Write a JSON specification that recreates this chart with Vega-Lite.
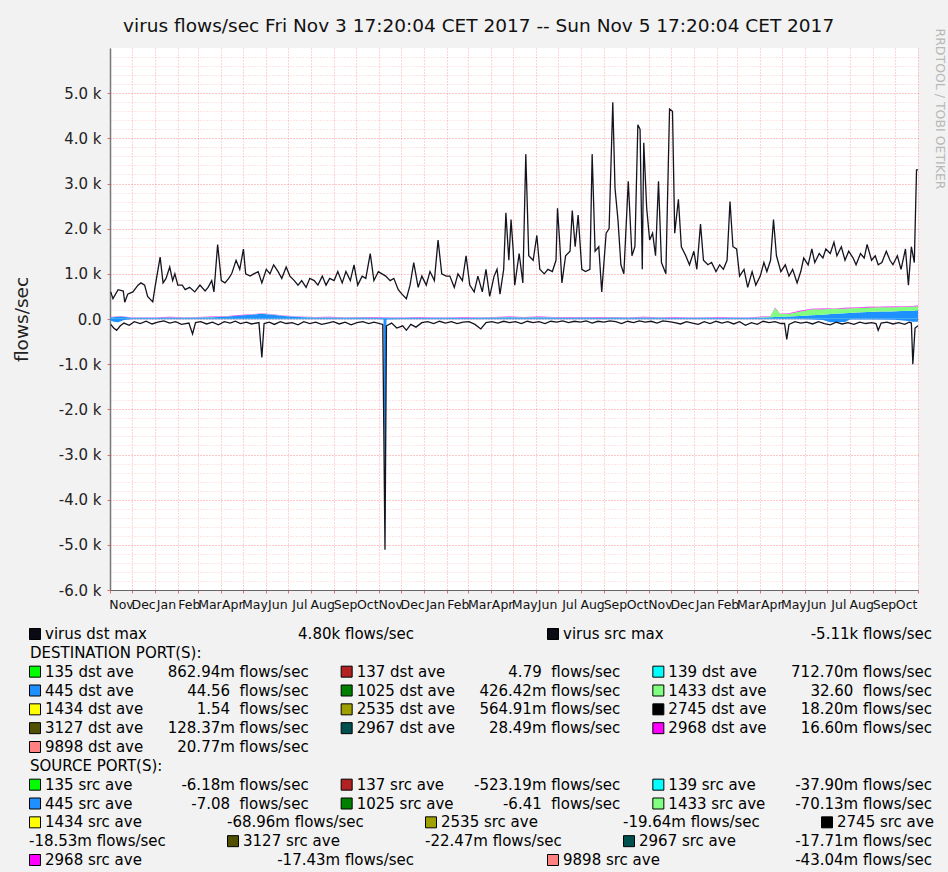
{
  "$schema": "https://vega.github.io/schema/vega-lite/v6.json",
  "background": "#f2f2f2",
  "padding": {"left": 12, "top": 17, "right": 3.5, "bottom": 4},
  "bounds": "flush",
  "spacing": 44,
  "title": {"text": "virus flows/sec Fri Nov 3 17:20:04 CET 2017 -- Sun Nov 5 17:20:04 CET 2017", "fontSize": 18.5, "fontWeight": "normal", "font": "DejaVu Sans", "color": "#111111", "anchor": "middle", "offset": -7.5},
  "config": {"font": "DejaVu Sans", "view": {"stroke": null}},
  "datasets": {
    "dstmax": [
      {"t":"2014-11-02","v":600},{"t":"2014-11-05","v":450},{"t":"2014-11-12","v":650},{"t":"2014-11-19","v":620},{"t":"2014-11-21","v":370},{"t":"2014-11-25","v":550},
      {"t":"2014-12-02","v":600},{"t":"2014-12-09","v":750},{"t":"2014-12-13","v":800},{"t":"2014-12-18","v":750},{"t":"2014-12-22","v":500},{"t":"2014-12-29","v":380},
      {"t":"2015-01-01","v":700},{"t":"2015-01-08","v":1370},{"t":"2015-01-12","v":800},{"t":"2015-01-16","v":900},{"t":"2015-01-21","v":1150},{"t":"2015-01-25","v":850},{"t":"2015-01-28","v":1000},
      {"t":"2015-02-01","v":750},{"t":"2015-02-07","v":750},{"t":"2015-02-11","v":650},{"t":"2015-02-17","v":700},{"t":"2015-02-24","v":600},
      {"t":"2015-03-03","v":750},{"t":"2015-03-10","v":620},{"t":"2015-03-14","v":700},{"t":"2015-03-19","v":850},{"t":"2015-03-22","v":600},{"t":"2015-03-27","v":1650},
      {"t":"2015-04-01","v":850},{"t":"2015-04-06","v":800},{"t":"2015-04-11","v":900},{"t":"2015-04-15","v":1000},{"t":"2015-04-21","v":1300},{"t":"2015-04-26","v":1100},
      {"t":"2015-05-01","v":1550},{"t":"2015-05-04","v":1000},{"t":"2015-05-10","v":950},{"t":"2015-05-15","v":1000},{"t":"2015-05-21","v":1050},{"t":"2015-05-26","v":800},
      {"t":"2015-06-01","v":1100},{"t":"2015-06-06","v":1000},{"t":"2015-06-11","v":1200},{"t":"2015-06-17","v":1050},{"t":"2015-06-22","v":900},{"t":"2015-06-28","v":1150},
      {"t":"2015-07-03","v":950},{"t":"2015-07-09","v":850},{"t":"2015-07-14","v":750},{"t":"2015-07-19","v":850},{"t":"2015-07-25","v":700},{"t":"2015-07-30","v":900},
      {"t":"2015-08-05","v":850},{"t":"2015-08-10","v":750},{"t":"2015-08-16","v":950},{"t":"2015-08-21","v":750},{"t":"2015-08-26","v":900},
      {"t":"2015-09-01","v":850},{"t":"2015-09-06","v":1050},{"t":"2015-09-12","v":800},{"t":"2015-09-17","v":1050},{"t":"2015-09-23","v":850},{"t":"2015-09-28","v":1200},
      {"t":"2015-10-03","v":750},{"t":"2015-10-09","v":950},{"t":"2015-10-14","v":900},{"t":"2015-10-20","v":1450},{"t":"2015-10-25","v":850},{"t":"2015-10-31","v":1050},
      {"t":"2015-11-05","v":1000},{"t":"2015-11-10","v":950},{"t":"2015-11-16","v":850},{"t":"2015-11-21","v":900},{"t":"2015-11-27","v":650},
      {"t":"2015-12-02","v":550},{"t":"2015-12-08","v":450},{"t":"2015-12-13","v":750},{"t":"2015-12-18","v":1250},{"t":"2015-12-24","v":700},{"t":"2015-12-29","v":950},
      {"t":"2016-01-04","v":750},{"t":"2016-01-09","v":1050},{"t":"2016-01-15","v":850},{"t":"2016-01-20","v":1750},{"t":"2016-01-25","v":1000},{"t":"2016-01-31","v":950},
      {"t":"2016-02-05","v":950},{"t":"2016-02-11","v":700},{"t":"2016-02-16","v":1000},{"t":"2016-02-22","v":850},{"t":"2016-02-27","v":1400},
      {"t":"2016-03-03","v":750},{"t":"2016-03-09","v":600},{"t":"2016-03-14","v":950},{"t":"2016-03-20","v":600},{"t":"2016-03-25","v":1100},{"t":"2016-03-30","v":500},
      {"t":"2016-04-05","v":950},{"t":"2016-04-09","v":1100},{"t":"2016-04-13","v":550},{"t":"2016-04-18","v":1100},{"t":"2016-04-21","v":2350},{"t":"2016-04-25","v":1300},{"t":"2016-04-28","v":2200},
      {"t":"2016-05-01","v":1500},{"t":"2016-05-03","v":750},{"t":"2016-05-09","v":1450},{"t":"2016-05-14","v":800},{"t":"2016-05-18","v":3650},{"t":"2016-05-22","v":1400},{"t":"2016-05-28","v":1300},
      {"t":"2016-06-02","v":1850},{"t":"2016-06-06","v":1100},{"t":"2016-06-12","v":1000},{"t":"2016-06-17","v":1100},{"t":"2016-06-23","v":1050},{"t":"2016-06-28","v":1300},{"t":"2016-06-30","v":2450},
      {"t":"2016-07-03","v":1700},{"t":"2016-07-06","v":800},{"t":"2016-07-11","v":1400},{"t":"2016-07-17","v":1500},{"t":"2016-07-20","v":2400},{"t":"2016-07-24","v":1600},{"t":"2016-07-28","v":2300},
      {"t":"2016-08-02","v":1100},{"t":"2016-08-07","v":1050},{"t":"2016-08-13","v":1100},{"t":"2016-08-16","v":3650},{"t":"2016-08-20","v":1500},{"t":"2016-08-25","v":1600},{"t":"2016-08-29","v":600},
      {"t":"2016-09-04","v":1900},{"t":"2016-09-08","v":2000},{"t":"2016-09-13","v":4800},{"t":"2016-09-16","v":2900},{"t":"2016-09-20","v":2200},{"t":"2016-09-24","v":1200},{"t":"2016-09-28","v":1000},
      {"t":"2016-10-04","v":3050},{"t":"2016-10-09","v":1400},{"t":"2016-10-13","v":1600},{"t":"2016-10-17","v":4300},{"t":"2016-10-20","v":4200},{"t":"2016-10-23","v":1100},{"t":"2016-10-25","v":3900},{"t":"2016-10-29","v":2450},
      {"t":"2016-11-02","v":1750},{"t":"2016-11-06","v":1900},{"t":"2016-11-10","v":1400},{"t":"2016-11-14","v":3050},{"t":"2016-11-18","v":1250},{"t":"2016-11-24","v":1000},{"t":"2016-11-29","v":4650},
      {"t":"2016-12-03","v":4600},{"t":"2016-12-06","v":1900},{"t":"2016-12-11","v":2650},{"t":"2016-12-15","v":1600},{"t":"2016-12-21","v":1400},{"t":"2016-12-26","v":1200},
      {"t":"2017-01-01","v":1500},{"t":"2017-01-05","v":1100},{"t":"2017-01-10","v":2100},{"t":"2017-01-14","v":1300},{"t":"2017-01-20","v":1200},{"t":"2017-01-25","v":1250},{"t":"2017-01-31","v":1050},
      {"t":"2017-02-05","v":1200},{"t":"2017-02-10","v":1100},{"t":"2017-02-15","v":1300},{"t":"2017-02-19","v":2600},{"t":"2017-02-23","v":1600},{"t":"2017-02-28","v":1550},
      {"t":"2017-03-04","v":950},{"t":"2017-03-10","v":1100},{"t":"2017-03-15","v":700},{"t":"2017-03-21","v":1050},{"t":"2017-03-26","v":750},
      {"t":"2017-04-01","v":950},{"t":"2017-04-06","v":1250},{"t":"2017-04-10","v":1050},{"t":"2017-04-15","v":1300},{"t":"2017-04-19","v":2200},{"t":"2017-04-23","v":1400},{"t":"2017-04-29","v":1050},
      {"t":"2017-05-05","v":1200},{"t":"2017-05-10","v":950},{"t":"2017-05-15","v":1100},{"t":"2017-05-21","v":800},{"t":"2017-05-26","v":1050},{"t":"2017-05-30","v":1350},
      {"t":"2017-06-05","v":1200},{"t":"2017-06-10","v":1550},{"t":"2017-06-14","v":1250},{"t":"2017-06-20","v":1450},{"t":"2017-06-25","v":1350},{"t":"2017-06-29","v":1550},
      {"t":"2017-07-05","v":1450},{"t":"2017-07-10","v":1700},{"t":"2017-07-14","v":1400},{"t":"2017-07-20","v":1600},{"t":"2017-07-25","v":1300},{"t":"2017-07-30","v":1500},
      {"t":"2017-08-05","v":1350},{"t":"2017-08-09","v":1200},{"t":"2017-08-15","v":1450},{"t":"2017-08-20","v":1350},{"t":"2017-08-24","v":1650},{"t":"2017-08-30","v":1300},
      {"t":"2017-09-04","v":1400},{"t":"2017-09-08","v":1200},{"t":"2017-09-13","v":1250},{"t":"2017-09-19","v":1500},{"t":"2017-09-24","v":1300},{"t":"2017-09-28","v":1200},
      {"t":"2017-10-04","v":1400},{"t":"2017-10-09","v":1100},{"t":"2017-10-15","v":1550},{"t":"2017-10-19","v":750},{"t":"2017-10-23","v":1600},{"t":"2017-10-27","v":1250},{"t":"2017-10-30","v":3300},{"t":"2017-11-01","v":3300}
    ],
    "srcmax": [
      {"t":"2014-11-02","v":-120},{"t":"2014-11-06","v":-200},{"t":"2014-11-10","v":-250},{"t":"2014-11-15","v":-150},{"t":"2014-11-20","v":-90},{"t":"2014-11-27","v":-140},
      {"t":"2014-12-04","v":-60},{"t":"2014-12-12","v":-100},{"t":"2014-12-20","v":-50},{"t":"2014-12-28","v":-110},
      {"t":"2015-01-05","v":-70},{"t":"2015-01-13","v":-40},{"t":"2015-01-21","v":-90},{"t":"2015-01-29","v":-60},
      {"t":"2015-02-06","v":-120},{"t":"2015-02-16","v":-90},{"t":"2015-02-21","v":-330},{"t":"2015-02-25","v":-80},
      {"t":"2015-03-04","v":-60},{"t":"2015-03-12","v":-110},{"t":"2015-03-20","v":-70},{"t":"2015-03-28","v":-130},
      {"t":"2015-04-05","v":-60},{"t":"2015-04-13","v":-90},{"t":"2015-04-20","v":-50},{"t":"2015-04-27","v":-100},
      {"t":"2015-05-05","v":-70},{"t":"2015-05-12","v":-110},{"t":"2015-05-22","v":-80},{"t":"2015-05-26","v":-850},{"t":"2015-05-29","v":-100},
      {"t":"2015-06-05","v":-70},{"t":"2015-06-12","v":-120},{"t":"2015-06-20","v":-60},{"t":"2015-06-28","v":-100},
      {"t":"2015-07-06","v":-80},{"t":"2015-07-14","v":-130},{"t":"2015-07-22","v":-60},{"t":"2015-07-30","v":-100},
      {"t":"2015-08-07","v":-70},{"t":"2015-08-15","v":-120},{"t":"2015-08-23","v":-90},{"t":"2015-08-31","v":-60},
      {"t":"2015-09-08","v":-110},{"t":"2015-09-16","v":-70},{"t":"2015-09-24","v":-130},
      {"t":"2015-10-02","v":-80},{"t":"2015-10-10","v":-60},{"t":"2015-10-18","v":-100},{"t":"2015-10-25","v":-70},
      {"t":"2015-11-06","v":-120},{"t":"2015-11-09","v":-5110},{"t":"2015-11-11","v":-150},{"t":"2015-11-18","v":-90},{"t":"2015-11-25","v":-200},
      {"t":"2015-12-03","v":-150},{"t":"2015-12-08","v":-250},{"t":"2015-12-14","v":-120},{"t":"2015-12-21","v":-180},{"t":"2015-12-29","v":-80},
      {"t":"2016-01-06","v":-60},{"t":"2016-01-14","v":-100},{"t":"2016-01-22","v":-50},{"t":"2016-01-30","v":-90},
      {"t":"2016-02-07","v":-60},{"t":"2016-02-15","v":-100},{"t":"2016-02-23","v":-70},
      {"t":"2016-03-02","v":-60},{"t":"2016-03-10","v":-120},{"t":"2016-03-18","v":-220},{"t":"2016-03-25","v":-80},
      {"t":"2016-04-02","v":-60},{"t":"2016-04-10","v":-90},{"t":"2016-04-18","v":-50},{"t":"2016-04-26","v":-80},
      {"t":"2016-05-04","v":-60},{"t":"2016-05-12","v":-100},{"t":"2016-05-20","v":-50},{"t":"2016-05-28","v":-80},
      {"t":"2016-06-05","v":-60},{"t":"2016-06-13","v":-100},{"t":"2016-06-21","v":-50},{"t":"2016-06-29","v":-70},
      {"t":"2016-07-07","v":-40},{"t":"2016-07-15","v":-80},{"t":"2016-07-23","v":-50},{"t":"2016-07-31","v":-70},
      {"t":"2016-08-08","v":-40},{"t":"2016-08-16","v":-90},{"t":"2016-08-24","v":-50},
      {"t":"2016-09-01","v":-70},{"t":"2016-09-09","v":-40},{"t":"2016-09-17","v":-60},{"t":"2016-09-25","v":-100},
      {"t":"2016-10-03","v":-50},{"t":"2016-10-11","v":-80},{"t":"2016-10-19","v":-40},{"t":"2016-10-27","v":-70},
      {"t":"2016-11-04","v":-50},{"t":"2016-11-12","v":-90},{"t":"2016-11-20","v":-40},{"t":"2016-11-28","v":-60},
      {"t":"2016-12-06","v":-80},{"t":"2016-12-14","v":-110},{"t":"2016-12-22","v":-60},{"t":"2016-12-30","v":-90},
      {"t":"2017-01-07","v":-120},{"t":"2017-01-15","v":-60},{"t":"2017-01-23","v":-100},{"t":"2017-01-31","v":-50},
      {"t":"2017-02-08","v":-90},{"t":"2017-02-16","v":-60},{"t":"2017-02-24","v":-110},
      {"t":"2017-03-04","v":-60},{"t":"2017-03-12","v":-140},{"t":"2017-03-20","v":-80},{"t":"2017-03-28","v":-120},
      {"t":"2017-04-05","v":-50},{"t":"2017-04-13","v":-80},{"t":"2017-04-21","v":-60},{"t":"2017-04-29","v":-100},
      {"t":"2017-05-04","v":-100},{"t":"2017-05-07","v":-450},{"t":"2017-05-10","v":-120},{"t":"2017-05-18","v":-60},{"t":"2017-05-26","v":-90},
      {"t":"2017-06-03","v":-70},{"t":"2017-06-11","v":-110},{"t":"2017-06-19","v":-60},{"t":"2017-06-27","v":-100},
      {"t":"2017-07-05","v":-130},{"t":"2017-07-13","v":-70},{"t":"2017-07-21","v":-110},{"t":"2017-07-29","v":-80},
      {"t":"2017-08-06","v":-120},{"t":"2017-08-14","v":-70},{"t":"2017-08-22","v":-100},{"t":"2017-08-30","v":-80},
      {"t":"2017-09-05","v":-100},{"t":"2017-09-08","v":-250},{"t":"2017-09-12","v":-90},{"t":"2017-09-20","v":-70},{"t":"2017-09-28","v":-110},
      {"t":"2017-10-06","v":-80},{"t":"2017-10-14","v":-120},{"t":"2017-10-20","v":-70},{"t":"2017-10-23","v":-90},{"t":"2017-10-25","v":-1000},{"t":"2017-10-28","v":-200},{"t":"2017-11-01","v":-150}
    ],
    "dstports": [
      {"t":"2014-11-01","0135":5,"0445":30,"1433":5,"2968":5},
      {"t":"2014-11-15","0135":5,"0445":50,"1433":5,"2968":5},
      {"t":"2014-12-01","0135":5,"0445":20,"1433":5,"2968":5},
      {"t":"2014-12-15","0135":5,"0445":25,"1433":5,"2968":5},
      {"t":"2015-01-01","0135":5,"0445":20,"1433":5,"2968":5},
      {"t":"2015-01-20","0135":5,"0445":30,"1433":5,"2968":8},
      {"t":"2015-02-10","0135":5,"0445":25,"1433":5,"2968":5},
      {"t":"2015-03-01","0135":5,"0445":30,"1433":5,"2968":5},
      {"t":"2015-03-20","0135":5,"0445":35,"1433":5,"2968":8},
      {"t":"2015-04-10","0135":5,"0445":50,"1433":5,"2968":5},
      {"t":"2015-04-25","0135":5,"0445":70,"1433":5,"2968":8},
      {"t":"2015-05-10","0135":5,"0445":90,"1433":5,"2968":5},
      {"t":"2015-05-25","0135":5,"0445":110,"1433":5,"2968":8},
      {"t":"2015-06-10","0135":5,"0445":90,"1433":5,"2968":5},
      {"t":"2015-06-25","0135":5,"0445":60,"1433":5,"2968":8},
      {"t":"2015-07-15","0135":5,"0445":40,"1433":5,"2968":5},
      {"t":"2015-08-05","0135":5,"0445":30,"1433":5,"2968":5},
      {"t":"2015-08-25","0135":5,"0445":30,"1433":5,"2968":8},
      {"t":"2015-09-15","0135":5,"0445":25,"1433":5,"2968":5},
      {"t":"2015-10-05","0135":5,"0445":30,"1433":5,"2968":5},
      {"t":"2015-10-25","0135":5,"0445":25,"1433":5,"2968":8},
      {"t":"2015-11-15","0135":5,"0445":20,"1433":5,"2968":5},
      {"t":"2015-12-05","0135":5,"0445":20,"1433":5,"2968":5},
      {"t":"2015-12-25","0135":5,"0445":25,"1433":5,"2968":8},
      {"t":"2016-01-15","0135":5,"0445":20,"1433":5,"2968":5},
      {"t":"2016-02-05","0135":5,"0445":25,"1433":5,"2968":5},
      {"t":"2016-02-25","0135":5,"0445":20,"1433":5,"2968":8},
      {"t":"2016-03-15","0135":5,"0445":25,"1433":5,"2968":5},
      {"t":"2016-04-05","0135":5,"0445":30,"1433":5,"2968":5},
      {"t":"2016-04-25","0135":5,"0445":35,"1433":5,"2968":8},
      {"t":"2016-05-15","0135":5,"0445":30,"1433":5,"2968":5},
      {"t":"2016-06-05","0135":5,"0445":35,"1433":5,"2968":8},
      {"t":"2016-06-25","0135":5,"0445":30,"1433":5,"2968":5},
      {"t":"2016-07-15","0135":5,"0445":25,"1433":5,"2968":8},
      {"t":"2016-08-05","0135":5,"0445":30,"1433":5,"2968":5},
      {"t":"2016-08-25","0135":5,"0445":25,"1433":5,"2968":8},
      {"t":"2016-09-15","0135":5,"0445":30,"1433":5,"2968":5},
      {"t":"2016-10-05","0135":5,"0445":25,"1433":5,"2968":5},
      {"t":"2016-10-25","0135":5,"0445":30,"1433":5,"2968":8},
      {"t":"2016-11-15","0135":5,"0445":25,"1433":5,"2968":5},
      {"t":"2016-12-05","0135":5,"0445":20,"1433":5,"2968":8},
      {"t":"2016-12-25","0135":5,"0445":20,"1433":5,"2968":5},
      {"t":"2017-01-15","0135":5,"0445":25,"1433":5,"2968":5},
      {"t":"2017-02-05","0135":5,"0445":20,"1433":5,"2968":8},
      {"t":"2017-02-25","0135":5,"0445":25,"1433":5,"2968":5},
      {"t":"2017-03-15","0135":5,"0445":20,"1433":5,"2968":5},
      {"t":"2017-04-05","0135":5,"0445":30,"1433":10,"2968":8},
      {"t":"2017-04-15","0135":5,"0445":35,"1433":20,"2968":5},
      {"t":"2017-04-21","0135":5,"0445":40,"1433":200,"2968":10},
      {"t":"2017-04-28","0135":5,"0445":45,"1433":60,"2968":8},
      {"t":"2017-05-10","0135":5,"0445":50,"1433":60,"2968":10},
      {"t":"2017-05-25","0135":5,"0445":60,"1433":100,"2968":15},
      {"t":"2017-06-10","0135":5,"0445":80,"1433":130,"2968":10},
      {"t":"2017-06-25","0135":5,"0445":90,"1433":120,"2968":15},
      {"t":"2017-07-10","0135":5,"0445":110,"1433":110,"2968":10},
      {"t":"2017-07-25","0135":5,"0445":120,"1433":110,"2968":15},
      {"t":"2017-08-10","0135":5,"0445":140,"1433":100,"2968":12},
      {"t":"2017-08-25","0135":5,"0445":150,"1433":100,"2968":15},
      {"t":"2017-09-10","0135":5,"0445":160,"1433":95,"2968":10},
      {"t":"2017-09-25","0135":5,"0445":160,"1433":95,"2968":15},
      {"t":"2017-10-10","0135":5,"0445":170,"1433":90,"2968":12},
      {"t":"2017-10-25","0135":5,"0445":180,"1433":90,"2968":15},
      {"t":"2017-11-01","0135":5,"0445":190,"1433":90,"2968":15}
    ],
    "srcports": [
      {"t":"2014-11-01","v":-30},{"t":"2014-11-06","v":-60},{"t":"2014-11-12","v":-70},{"t":"2014-11-20","v":-20},{"t":"2014-12-01","v":-5},
      {"t":"2015-02-01","v":-5},{"t":"2015-05-01","v":-5},{"t":"2015-08-01","v":-5},{"t":"2015-11-01","v":-5},
      {"t":"2015-11-07","v":-10},{"t":"2015-11-09","v":-4950},{"t":"2015-11-11","v":-10},
      {"t":"2015-12-01","v":-5},{"t":"2016-03-01","v":-5},{"t":"2016-06-01","v":-5},{"t":"2016-09-01","v":-5},{"t":"2016-12-01","v":-5},
      {"t":"2017-03-01","v":-5},{"t":"2017-06-01","v":-5},{"t":"2017-06-25","v":-20},{"t":"2017-07-05","v":-70},{"t":"2017-07-25","v":-65},
      {"t":"2017-08-01","v":-10},{"t":"2017-09-01","v":-10},{"t":"2017-10-01","v":-15},{"t":"2017-10-15","v":-40},{"t":"2017-10-25","v":-60},{"t":"2017-11-01","v":-60}
    ],
    "legend": [
      {"line":0,"lay":"L2","slot":0,"key":"virus","name":"virus dst max","value":"4.80k flows/sec"},
      {"line":0,"lay":"L2","slot":1,"key":"virus","name":"virus src max","value":"-5.11k flows/sec"},
      {"line":1,"lay":"H","slot":0,"name":"DESTINATION PORT(S):"},
      {"line":2,"lay":"L3","slot":0,"key":"135","name":"135 dst ave","value":"862.94m flows/sec"},
      {"line":2,"lay":"L3","slot":1,"key":"137","name":"137 dst ave","value":"4.79\u00a0 flows/sec"},
      {"line":2,"lay":"L3","slot":2,"key":"139","name":"139 dst ave","value":"712.70m flows/sec"},
      {"line":3,"lay":"L3","slot":0,"key":"445","name":"445 dst ave","value":"44.56\u00a0 flows/sec"},
      {"line":3,"lay":"L3","slot":1,"key":"1025","name":"1025 dst ave","value":"426.42m flows/sec"},
      {"line":3,"lay":"L3","slot":2,"key":"1433","name":"1433 dst ave","value":"32.60\u00a0 flows/sec"},
      {"line":4,"lay":"L3","slot":0,"key":"1434","name":"1434 dst ave","value":"1.54\u00a0 flows/sec"},
      {"line":4,"lay":"L3","slot":1,"key":"2535","name":"2535 dst ave","value":"564.91m flows/sec"},
      {"line":4,"lay":"L3","slot":2,"key":"2745","name":"2745 dst ave","value":"18.20m flows/sec"},
      {"line":5,"lay":"L3","slot":0,"key":"3127","name":"3127 dst ave","value":"128.37m flows/sec"},
      {"line":5,"lay":"L3","slot":1,"key":"2967","name":"2967 dst ave","value":"28.49m flows/sec"},
      {"line":5,"lay":"L3","slot":2,"key":"2968","name":"2968 dst ave","value":"16.60m flows/sec"},
      {"line":6,"lay":"L3","slot":0,"key":"9898","name":"9898 dst ave","value":"20.77m flows/sec"},
      {"line":7,"lay":"H","slot":0,"name":"SOURCE PORT(S):"},
      {"line":8,"lay":"L3","slot":0,"key":"135","name":"135 src ave","value":"-6.18m flows/sec"},
      {"line":8,"lay":"L3","slot":1,"key":"137","name":"137 src ave","value":"-523.19m flows/sec"},
      {"line":8,"lay":"L3","slot":2,"key":"139","name":"139 src ave","value":"-37.90m flows/sec"},
      {"line":9,"lay":"L3","slot":0,"key":"445","name":"445 src ave","value":"-7.08\u00a0 flows/sec"},
      {"line":9,"lay":"L3","slot":1,"key":"1025","name":"1025 src ave","value":"-6.41\u00a0 flows/sec"},
      {"line":9,"lay":"L3","slot":2,"key":"1433","name":"1433 src ave","value":"-70.13m flows/sec"},
      {"line":10,"lay":"L5","slot":0,"key":"1434","name":"1434 src ave"},
      {"line":10,"lay":"L5","slot":1,"value":"-68.96m flows/sec"},
      {"line":10,"lay":"L5","slot":2,"key":"2535","name":"2535 src ave"},
      {"line":10,"lay":"L5","slot":3,"value":"-19.64m flows/sec"},
      {"line":10,"lay":"L5","slot":4,"key":"2745","name":"2745 src ave"},
      {"line":11,"lay":"L5","slot":0,"value":"-18.53m flows/sec"},
      {"line":11,"lay":"L5","slot":1,"key":"3127","name":"3127 src ave"},
      {"line":11,"lay":"L5","slot":2,"value":"-22.47m flows/sec"},
      {"line":11,"lay":"L5","slot":3,"key":"2967","name":"2967 src ave"},
      {"line":11,"lay":"L5","slot":4,"value":"-17.71m flows/sec"},
      {"line":12,"lay":"L2","slot":0,"key":"2968","name":"2968 src ave","value":"-17.43m flows/sec"},
      {"line":12,"lay":"L2","slot":1,"key":"9898","name":"9898 src ave","value":"-43.04m flows/sec"}
    ]
  },
  "vconcat": [
    {
      "width": 808,
      "height": 542,
      "view": {"fill": "#ffffff", "stroke": null},
      "encoding": {
        "x": {
          "field": "t", "type": "temporal",
          "scale": {"domain": [{"year": 2014, "month": 11, "date": 1}, {"year": 2017, "month": 11, "date": 1}]},
          "axis": {"tickCount": {"interval": "month", "step": 1}, "labelExpr": "year(datum.value) == 2017 && month(datum.value) == 10 ? '' : timeFormat(datum.value, '%b')", "labelOffset": 11, "labelFontSize": 12.5, "labelColor": "#111111", "labelOverlap": false, "labelFlush": false, "labelBound": false, "labelPadding": 5, "tickSize": 3, "tickColor": "#e07070", "grid": true, "gridColor": "#ff4040", "gridOpacity": 0.45, "gridDash": [1, 2], "domainColor": "#666666", "title": null}
        }
      },
      "layer": [
        {
          "data": {"name": "dstports"},
          "transform": [{"fold": ["0135", "0445", "1433", "2968"], "as": ["port", "v"]}],
          "mark": {"type": "area", "opacity": 1},
          "encoding": {
            "y": {"field": "v", "type": "quantitative", "stack": "zero", "scale": {"domain": [-6000, 6000], "nice": false, "zero": false},
              "axis": {"orient": "left", "values": [-5800,-5600,-5400,-5200,-4800,-4600,-4400,-4200,-3800,-3600,-3400,-3200,-2800,-2600,-2400,-2200,-1800,-1600,-1400,-1200,-800,-600,-400,-200,200,400,600,800,1200,1400,1600,1800,2200,2400,2600,2800,3200,3400,3600,3800,4200,4400,4600,4800,5200,5400,5600,5800], "grid": true, "gridColor": "#ff4040", "gridOpacity": 0.25, "gridDash": [1, 2], "labels": false, "ticks": false, "domain": false, "title": null, "minExtent": 0, "maxExtent": 0}},
            "color": {"field": "port", "type": "nominal", "scale": {"domain": ["0135", "0445", "1433", "2968"], "range": ["#00ff00", "#1e90ff", "#80ff80", "#ff00ff"]}, "legend": null},
            "order": {"field": "port", "type": "ordinal", "sort": "ascending"}
          }
        },
        {
          "data": {"name": "srcports"},
          "mark": {"type": "area", "opacity": 1, "color": "#1e90ff"},
          "encoding": {
            "y": {"field": "v", "type": "quantitative", "scale": {"domain": [-6000, 6000], "nice": false, "zero": false},
              "axis": {"orient": "left", "values": [-6000,-5000,-4000,-3000,-2000,-1000,0,1000,2000,3000,4000,5000], "labelExpr": "datum.value == 0 ? '0.0' : (datum.value < 0 ? '-' : '') + format(abs(datum.value) / 1000, '.1f') + ' k'", "labelFontSize": 15, "labelColor": "#222222", "labelPadding": 6, "tickSize": 3, "tickColor": "#e07070", "grid": true, "gridColor": "#ff3030", "gridOpacity": 0.55, "gridDash": [1, 2], "domainColor": "#777777", "domainWidth": 1.5, "title": "flows/sec", "titleFontSize": 18.5, "titleFontWeight": "normal", "titleColor": "#222222", "titlePadding": 27}}
          }
        },
        {
          "data": {"name": "dstmax"},
          "mark": {"type": "line", "color": "#141420", "strokeWidth": 1.3},
          "encoding": {
            "y": {"field": "v", "type": "quantitative", "scale": {"domain": [-6000, 6000], "nice": false, "zero": false}, "axis": null}
          }
        },
        {
          "data": {"name": "srcmax"},
          "mark": {"type": "line", "color": "#141420", "strokeWidth": 1.3},
          "encoding": {
            "y": {"field": "v", "type": "quantitative", "scale": {"domain": [-6000, 6000], "nice": false, "zero": false},
              "axis": {"orient": "right", "title": "RRDTOOL / TOBI OETIKER", "titleAngle": 90, "titleFontSize": 12.5, "titleFontWeight": "normal", "titleColor": "#b8b8b8", "titlePadding": 14, "titleY": -20, "titleAlign": "left", "labels": false, "ticks": false, "domain": false, "grid": false}}
          }
        },
        {
          "data": {"values": [{}]},
          "mark": {"type": "point", "shape": "triangle-up", "filled": true, "opacity": 1, "color": "#8b1a1a", "size": 40},
          "encoding": {
            "x": {"datum": {"year": 2014, "month": 11, "date": 1}, "type": "temporal"},
            "y": {"datum": 6000, "type": "quantitative", "axis": null},
            "yOffset": {"value": -3}
          }
        },
        {
          "data": {"values": [{}]},
          "mark": {"type": "point", "shape": "triangle-right", "filled": true, "opacity": 1, "color": "#8b1a1a", "size": 40},
          "encoding": {
            "x": {"datum": {"year": 2017, "month": 11, "date": 1}, "type": "temporal"},
            "y": {"datum": -6000, "type": "quantitative", "axis": null},
            "xOffset": {"value": 4}
          }
        }
      ],
      "resolve": {"axis": {"y": "independent"}}
    },
    {
      "width": 808,
      "height": 226,
      "view": {"stroke": null},
      "data": {"name": "legend"},
      "encoding": {
        "y": {"field": "line", "type": "ordinal", "scale": {"type": "point", "domain": [0,1,2,3,4,5,6,7,8,9,10,11,12], "padding": 0}, "axis": null}
      },
      "layer": [
        {
          "transform": [{"filter": "datum.lay == 'H'"}],
          "mark": {"type": "text", "align": "left", "baseline": "middle", "dx": 1, "fontSize": 15, "color": "#000000"},
          "encoding": {"x": {"field": "slot", "type": "ordinal", "bandPosition": 0, "scale": {"type": "band", "domain": [0, 1, 2], "range": [-81, 822], "paddingInner": 0.1027, "paddingOuter": 0}, "axis": null}, "text": {"field": "name"}}
        },
        {
          "transform": [{"filter": "datum.lay == 'L2'"}],
          "mark": {"type": "point", "shape": "square", "filled": true, "opacity": 1, "stroke": "#000000", "strokeWidth": 1, "size": 121},
          "encoding": {"x": {"field": "slot", "type": "ordinal", "bandPosition": 0, "scale": {"type": "band", "domain": [0, 1], "range": [-81, 822], "paddingInner": 0.2568, "paddingOuter": 0}, "axis": null}, "xOffset": {"value": 6}, "fill": {"field": "key", "type": "nominal", "scale": {"domain": ["virus","135","137","139","445","1025","1433","1434","2535","2745","3127","2967","2968","9898"], "range": ["#0a0a14","#00ff00","#b22222","#00ffff","#1e90ff","#008000","#80ff80","#ffff00","#9f9f00","#000000","#505000","#005050","#ff00ff","#ff8080"]}, "legend": null}}
        },
        {
          "transform": [{"filter": "datum.lay == 'L2'"}],
          "mark": {"type": "text", "align": "left", "baseline": "middle", "dx": 16, "fontSize": 15, "color": "#000000"},
          "encoding": {"x": {"field": "slot", "type": "ordinal", "bandPosition": 0, "scale": {"type": "band", "domain": [0, 1], "range": [-81, 822], "paddingInner": 0.2568, "paddingOuter": 0}, "axis": null}, "text": {"field": "name"}}
        },
        {
          "transform": [{"filter": "datum.lay == 'L2'"}],
          "mark": {"type": "text", "align": "right", "baseline": "middle", "fontSize": 15, "color": "#000000"},
          "encoding": {"x": {"field": "slot", "type": "ordinal", "bandPosition": 1, "scale": {"type": "band", "domain": [0, 1], "range": [-81, 822], "paddingInner": 0.2568, "paddingOuter": 0}, "axis": null}, "text": {"field": "value"}}
        },
        {
          "transform": [{"filter": "datum.lay == 'L3'"}],
          "mark": {"type": "point", "shape": "square", "filled": true, "opacity": 1, "stroke": "#000000", "strokeWidth": 1, "size": 121},
          "encoding": {"x": {"field": "slot", "type": "ordinal", "bandPosition": 0, "scale": {"type": "band", "domain": [0, 1, 2], "range": [-81, 822], "paddingInner": 0.1027, "paddingOuter": 0}, "axis": null}, "xOffset": {"value": 6}, "fill": {"field": "key", "type": "nominal", "scale": {"domain": ["virus","135","137","139","445","1025","1433","1434","2535","2745","3127","2967","2968","9898"], "range": ["#0a0a14","#00ff00","#b22222","#00ffff","#1e90ff","#008000","#80ff80","#ffff00","#9f9f00","#000000","#505000","#005050","#ff00ff","#ff8080"]}, "legend": null}}
        },
        {
          "transform": [{"filter": "datum.lay == 'L3'"}],
          "mark": {"type": "text", "align": "left", "baseline": "middle", "dx": 16, "fontSize": 15, "color": "#000000"},
          "encoding": {"x": {"field": "slot", "type": "ordinal", "bandPosition": 0, "scale": {"type": "band", "domain": [0, 1, 2], "range": [-81, 822], "paddingInner": 0.1027, "paddingOuter": 0}, "axis": null}, "text": {"field": "name"}}
        },
        {
          "transform": [{"filter": "datum.lay == 'L3'"}],
          "mark": {"type": "text", "align": "right", "baseline": "middle", "fontSize": 15, "color": "#000000"},
          "encoding": {"x": {"field": "slot", "type": "ordinal", "bandPosition": 1, "scale": {"type": "band", "domain": [0, 1, 2], "range": [-81, 822], "paddingInner": 0.1027, "paddingOuter": 0}, "axis": null}, "text": {"field": "value"}}
        },
        {
          "transform": [{"filter": "datum.lay == 'L5' && isValid(datum.key)"}],
          "mark": {"type": "point", "shape": "square", "filled": true, "opacity": 1, "stroke": "#000000", "strokeWidth": 1, "size": 121},
          "encoding": {"x": {"field": "slot", "type": "ordinal", "bandPosition": 0, "scale": {"type": "band", "domain": [0, 1, 2, 3, 4], "range": [-81, 822], "paddingInner": 0.4394, "paddingOuter": 0}, "axis": null}, "xOffset": {"value": 6}, "fill": {"field": "key", "type": "nominal", "scale": {"domain": ["virus","135","137","139","445","1025","1433","1434","2535","2745","3127","2967","2968","9898"], "range": ["#0a0a14","#00ff00","#b22222","#00ffff","#1e90ff","#008000","#80ff80","#ffff00","#9f9f00","#000000","#505000","#005050","#ff00ff","#ff8080"]}, "legend": null}}
        },
        {
          "transform": [{"filter": "datum.lay == 'L5' && isValid(datum.key)"}],
          "mark": {"type": "text", "align": "left", "baseline": "middle", "dx": 16, "fontSize": 15, "color": "#000000"},
          "encoding": {"x": {"field": "slot", "type": "ordinal", "bandPosition": 0, "scale": {"type": "band", "domain": [0, 1, 2, 3, 4], "range": [-81, 822], "paddingInner": 0.4394, "paddingOuter": 0}, "axis": null}, "text": {"field": "name"}}
        },
        {
          "transform": [{"filter": "datum.lay == 'L5' && isValid(datum.value) && datum.slot < 4"}],
          "mark": {"type": "text", "align": "left", "baseline": "middle", "fontSize": 15, "color": "#000000"},
          "encoding": {"x": {"field": "slot", "type": "ordinal", "bandPosition": 0, "scale": {"type": "band", "domain": [0, 1, 2, 3, 4], "range": [-81, 822], "paddingInner": 0.4394, "paddingOuter": 0}, "axis": null}, "text": {"field": "value"}}
        },
        {
          "transform": [{"filter": "datum.lay == 'L5' && isValid(datum.value) && datum.slot == 4"}],
          "mark": {"type": "text", "align": "right", "baseline": "middle", "fontSize": 15, "color": "#000000"},
          "encoding": {"x": {"field": "slot", "type": "ordinal", "bandPosition": 1, "scale": {"type": "band", "domain": [0, 1, 2, 3, 4], "range": [-81, 822], "paddingInner": 0.4394, "paddingOuter": 0}, "axis": null}, "text": {"field": "value"}}
        }
      ],
      "resolve": {"scale": {"x": "independent"}}
    }
  ]
}
